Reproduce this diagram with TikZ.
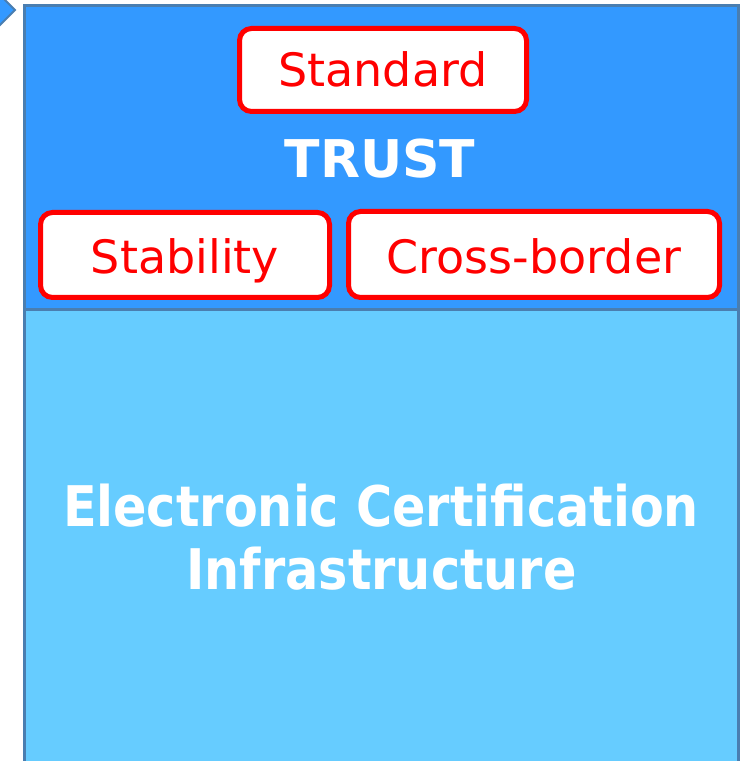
\documentclass[tikz,border=0pt]{standalone}
\usepackage{fontspec}
\setmainfont{DejaVu Sans}
\newfontfamily\titlefont[FakeStretch=0.88]{DejaVu Sans}
\usetikzlibrary{shapes.geometric}
\definecolor{topblue}{HTML}{3399FF}
\definecolor{lowblue}{HTML}{66CCFF}
\definecolor{edgeblue}{HTML}{4A7EB0}
\tikzset{
  band/.style={draw=edgeblue, line width=3pt},
  pill/.style={draw=red, fill=white, line width=5pt, rounded corners=12pt},
  pilltext/.style={text=red, font=\fontsize{46}{50}\selectfont, anchor=base, inner sep=0pt},
  trusttext/.style={text=white, font=\fontsize{52}{56}\selectfont\bfseries, anchor=base, inner sep=0pt},
  bigtext/.style={text=white, font=\titlefont\fontsize{56}{60}\selectfont\bfseries, anchor=base, inner sep=0pt}
}
\begin{document}
\begin{tikzpicture}[x=1pt,y=1pt]
\clip (0,0) rectangle (745,761);
\fill[white] (0,0) rectangle (745,761);
% small diamond at top-left
\draw[band, line width=2pt, fill=topblue] (15,751) -- (0,766) -- (-15,751) -- (0,736) -- cycle;
% bands
\draw[band, fill=lowblue] (24,451) rectangle (738,-20);
\draw[band, fill=topblue] (24,755) rectangle (738,451);
% boxes
\draw[pill] (239.5,649.5) rectangle (526.5,732.5);
\node[pilltext] (standard) at (383,674) {Standard};
\node[trusttext] (trust) at (380,583) {TRUST};
\draw[pill] (40.5,463.5) rectangle (329.5,548.5);
\node[pilltext] (stability) at (185,487) {Stability};
\draw[pill] (348.5,463.5) rectangle (719.5,549.5);
\node[pilltext] (cross) at (534,487) {Cross-border};
% big text
\node[bigtext] (l1) at (381,234) {Electronic Certification};
\node[bigtext] (l2) at (381.5,171) {Infrastructure};
\end{tikzpicture}
\end{document}
